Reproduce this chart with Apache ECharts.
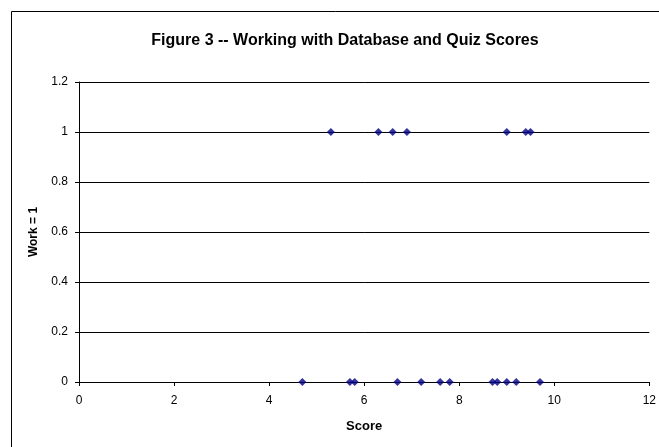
<!DOCTYPE html>
<html>
<head>
<meta charset="utf-8">
<script src="https://cdn.jsdelivr.net/npm/echarts@6/dist/echarts.min.js"></script>
<style>
  html, body { margin: 0; padding: 0; background: #fff; }
  #chart { width: 659px; height: 447px; }
</style>
</head>
<body>
<div id="chart"></div>
<script>
// scores of students who work (Work = 1)
const workScores = [5.3, 6.3, 6.6, 6.9, 9.0, 9.4, 9.5];
// scores of students who do not work (Work = 0)
const noWorkScores = [4.7, 5.7, 5.8, 6.7, 7.2, 7.6, 7.8, 8.7, 8.8, 9.0, 9.2, 9.7];

const titleText = 'Figure 3 -- Working with Database and Quiz Scores';
const xName = 'Score';
const yName = 'Work = 1';

const fontFamily = '"Liberation Sans", Arial, sans-serif';
const markColor = '#000080';

const points = [
  ...workScores.map(s => [s, 1]),
  ...noWorkScores.map(s => [s, 0])
];

const chart = echarts.init(document.getElementById('chart'));

const option = {
  backgroundColor: '#ffffff',
  animation: false,
  title: {
    text: titleText,
    left: 340,
    top: 28,
    textAlign: 'center',
    textStyle: {
      fontFamily,
      fontSize: 16,
      fontWeight: 'bold',
      color: '#000'
    }
  },
  graphic: [{
    type: 'rect',
    shape: { x: 11.5, y: 11.5, width: 800, height: 600 },
    style: { fill: 'none', stroke: '#000', lineWidth: 1 },
    silent: true,
    z: -1
  }],
  grid: {
    left: 79,
    right: 8,
    top: 82,
    bottom: 65,
    containLabel: false
  },
  xAxis: {
    type: 'value',
    min: 0,
    max: 12,
    interval: 2,
    name: xName,
    nameLocation: 'middle',
    nameGap: 38,
    nameTextStyle: { fontFamily, fontSize: 13, fontWeight: 'bold', color: '#000' },
    axisLine: { show: true, onZero: false, lineStyle: { color: '#000', width: 1 } },
    axisTick: { show: true, inside: false, length: 4, lineStyle: { color: '#000' } },
    axisLabel: { fontFamily, fontSize: 12, color: '#000', margin: 13 },
    splitLine: { show: false }
  },
  yAxis: {
    type: 'value',
    min: 0,
    max: 1.2,
    interval: 0.2,
    name: yName,
    nameLocation: 'middle',
    nameGap: 39,
    nameRotate: 90,
    nameTextStyle: { fontFamily, fontSize: 12, fontWeight: 'bold', color: '#000' },
    axisLine: { show: true, lineStyle: { color: '#000', width: 1 } },
    axisTick: { show: true, inside: false, length: 4, lineStyle: { color: '#000' } },
    axisLabel: {
      fontFamily,
      fontSize: 12,
      color: '#000',
      margin: 11,
      formatter: v => String(Math.round(v * 10) / 10)
    },
    splitLine: { show: true, lineStyle: { color: '#000', width: 1 } }
  },
  series: [{
    type: 'scatter',
    data: points,
    symbol: 'diamond',
    symbolSize: 8,
    itemStyle: { color: markColor },
    z: 5
  }]
};

chart.setOption(option);
</script>
</body>
</html>
